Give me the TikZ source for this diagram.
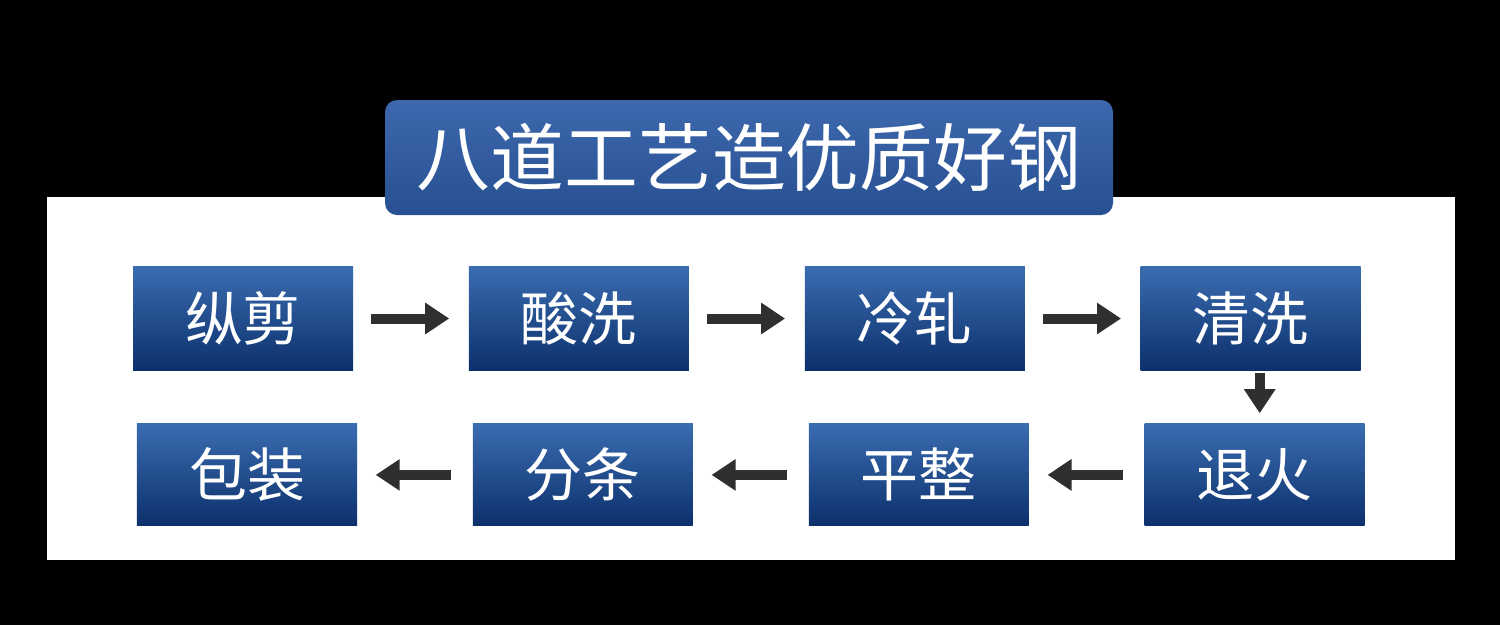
\documentclass[tikz,border=0pt]{standalone}
\usepackage{fontspec}
\newfontfamily\cjk{Noto Sans CJK SC}
\usepackage{xcolor}
\usepackage{tikz}
\usetikzlibrary{shapes,arrows.meta,positioning,calc}

\definecolor{boxtop}{HTML}{3A6CB0}
\definecolor{boxbottom}{HTML}{0C306C}
\definecolor{bannerblue}{HTML}{2D5BA6}
\definecolor{arrowgray}{HTML}{2F2F2F}

\begin{document}
\begin{tikzpicture}[
    node distance=1.145cm,
    stepbox/.style={rectangle, top color=boxtop, bottom color=boxbottom, minimum width=2.2cm, minimum height=1.04cm, inner sep=0pt, text=white, font=\cjk\fontsize{16.5}{18}\selectfont},
    banner/.style={rectangle, rounded corners=0.12cm, top color=bannerblue!92!white, bottom color=bannerblue!88!black, minimum width=7.28cm, minimum height=1.15cm, text=white, font=\cjk\fontsize{21}{24}\selectfont},
    flowarrow/.style={-{Triangle[width=0.3cm,length=0.24cm]}, line width=0.1cm, draw=arrowgray}
]
    % background and panel
    \fill[black] (0,0) rectangle (15,6.25);
    \fill[white] (0.47,0.65) rectangle (14.55,4.28);

    \node[banner] (title) at (7.49,4.675) {八道工艺造优质好钢};

    % first row
    \node[stepbox] (zongjian) at (2.43,3.065) {纵剪};
    \node[stepbox, right=of zongjian] (suanxi) {酸洗};
    \node[stepbox, right=of suanxi] (lengzha) {冷轧};
    \node[stepbox, right=of lengzha] (qingxi) {清洗};

    % second row
    \node[stepbox, below=0.52cm of qingxi, xshift=0.04cm, minimum height=1.02cm] (tuihuo) {退火};
    \node[stepbox, left=of tuihuo, minimum height=1.02cm] (pingzheng) {平整};
    \node[stepbox, left=of pingzheng, minimum height=1.02cm] (fentiao) {分条};
    \node[stepbox, left=of fentiao, minimum height=1.02cm] (baozhuang) {包装};

    \draw[flowarrow, shorten <=0.17cm, shorten >=0.19cm] (zongjian) -- (suanxi);
    \draw[flowarrow, shorten <=0.17cm, shorten >=0.19cm] (suanxi) -- (lengzha);
    \draw[flowarrow, shorten <=0.17cm, shorten >=0.19cm] (lengzha) -- (qingxi);
    \draw[flowarrow, shorten <=0.02cm, shorten >=0.1cm] ([xshift=0.09cm]qingxi.south) -- ([xshift=0.09cm]qingxi.south |- tuihuo.north);
    \draw[flowarrow, shorten <=0.21cm, shorten >=0.18cm] (tuihuo) -- (pingzheng);
    \draw[flowarrow, shorten <=0.21cm, shorten >=0.18cm] (pingzheng) -- (fentiao);
    \draw[flowarrow, shorten <=0.21cm, shorten >=0.18cm] (fentiao) -- (baozhuang);
\end{tikzpicture}
\end{document}
